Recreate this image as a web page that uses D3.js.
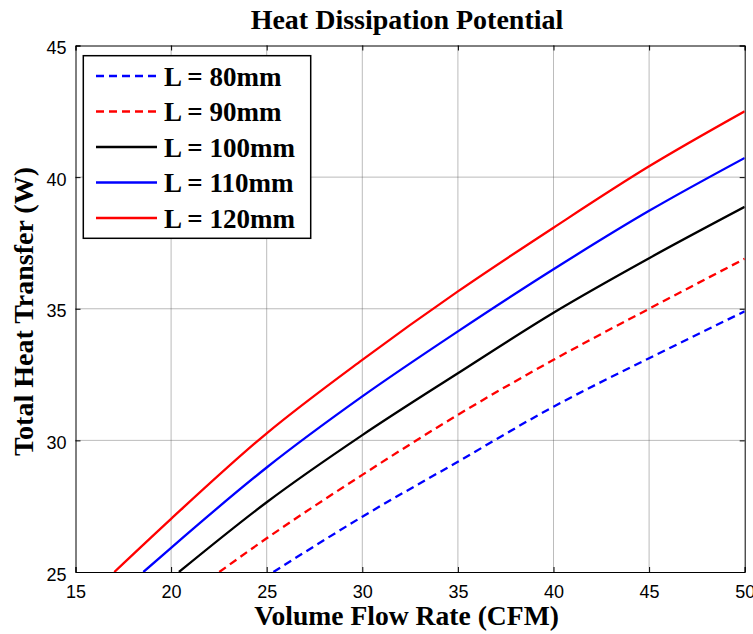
<!DOCTYPE html>
<html>
<head>
<meta charset="utf-8">
<script src="https://cdn.jsdelivr.net/npm/d3@7"></script>
<style>
  body { margin: 0; background: #fff; }
</style>
</head>
<body>
<div id="chart"></div>
<script>
////  Data
var seriesNames = ['L = 80mm', 'L = 90mm', 'L = 100mm', 'L = 110mm', 'L = 120mm'];
var flow80  = [25.35, 30, 35, 40, 45, 50];
var heat80  = [25, 27.1, 29.19, 31.28, 33.12, 34.9];
var flow90  = [22.52, 25, 30, 35, 40, 45, 50];
var heat90  = [25, 26.28, 28.69, 30.97, 33.06, 35.0, 36.9];
var flow100 = [20.41, 25, 30, 35, 40, 45, 50];
var heat100 = [25, 27.65, 30.2, 32.55, 34.85, 36.92, 38.87];
var flow110 = [18.55, 20, 25, 30, 35, 40, 45, 50];
var heat110 = [25, 25.92, 28.97, 31.67, 34.14, 36.5, 38.72, 40.73];
var flow120 = [17.03, 20, 25, 30, 35, 40, 45, 50];
var heat120 = [25, 27.02, 30.27, 33.06, 35.66, 38.08, 40.41, 42.5];
var xTicks = [15, 20, 25, 30, 35, 40, 45, 50];
var yTicks = [25, 30, 35, 40, 45];

var series = [
  {name: seriesNames[0], x: flow80,  y: heat80,  color: '#0000ff', dash: '8,5'},
  {name: seriesNames[1], x: flow90,  y: heat90,  color: '#ff0000', dash: '8,5'},
  {name: seriesNames[2], x: flow100, y: heat100, color: '#000000', dash: null},
  {name: seriesNames[3], x: flow110, y: heat110, color: '#0000ff', dash: null},
  {name: seriesNames[4], x: flow120, y: heat120, color: '#ff0000', dash: null}
];

////  Layout
var W = 753, H = 634;
var margin = {top: 45.5, right: 8.3, bottom: 62, left: 75.5};
var width = W - margin.left - margin.right,
    height = H - margin.top - margin.bottom;

var svg = d3.select('#chart').append('svg')
    .attr('width', W).attr('height', H);

var g = svg.append('g')
    .attr('transform', 'translate(' + margin.left + ',' + margin.top + ')');

var x = d3.scaleLinear().domain([15, 50]).range([0, width]);
var y = d3.scaleLinear().domain([25, 45]).range([height, 0]);

// grid (dotted, MATLAB style)
g.append('g').selectAll('line').data(xTicks.slice(1, -1)).enter().append('line')
    .attr('x1', d => x(d)).attr('x2', d => x(d))
    .attr('y1', 0).attr('y2', height)
    .attr('stroke', '#555').attr('stroke-width', 0.8).attr('stroke-dasharray', '1,1');
g.append('g').selectAll('line').data(yTicks.slice(1, -1)).enter().append('line')
    .attr('y1', d => y(d)).attr('y2', d => y(d))
    .attr('x1', 0).attr('x2', width)
    .attr('stroke', '#555').attr('stroke-width', 0.8).attr('stroke-dasharray', '1,1');

// axes, ticks inward
var tickFont = '"Liberation Sans", Arial, sans-serif';
var xAxis = g.append('g')
    .attr('transform', 'translate(0,' + height + ')')
    .call(d3.axisBottom(x).tickValues(xTicks).tickSize(-5).tickPadding(13));
var yAxis = g.append('g')
    .call(d3.axisLeft(y).tickValues(yTicks).tickSize(-5).tickPadding(9));
g.append('g').call(d3.axisTop(x).tickValues(xTicks).tickSize(-5).tickFormat(''));
g.append('g').attr('transform', 'translate(' + width + ',0)')
    .call(d3.axisRight(y).tickValues(yTicks).tickSize(-5).tickFormat(''));

g.selectAll('.domain').attr('stroke', '#000').attr('stroke-width', 1);
g.selectAll('.tick line').attr('stroke', '#000').attr('stroke-width', 1);
[xAxis, yAxis].forEach(function(a) {
  a.selectAll('text')
    .attr('font-family', tickFont).attr('font-size', 18).attr('fill', '#000');
});
yAxis.selectAll('text').attr('dy', '0.45em');

// clip
g.append('clipPath').attr('id', 'clip').append('rect')
    .attr('width', width).attr('height', height);

var line = d3.line()
    .curve(d3.curveMonotoneX)
    .x(d => x(d[0]))
    .y(d => y(d[1]));

g.append('g').attr('clip-path', 'url(#clip)')
  .selectAll('path').data(series).enter().append('path')
    .attr('d', d => line(d.x.map((v, i) => [v, d.y[i]])))
    .attr('fill', 'none')
    .attr('stroke', d => d.color)
    .attr('stroke-width', 2.3)
    .attr('stroke-dasharray', d => d.dash);

// titles
var serif = '"Liberation Serif", "Times New Roman", Times, serif';
svg.append('text')
    .attr('x', 407).attr('y', 29)
    .attr('text-anchor', 'middle')
    .attr('font-family', serif).attr('font-weight', 'bold').attr('font-size', 28)
    .text('Heat Dissipation Potential');
svg.append('text')
    .attr('x', 406.5).attr('y', 625)
    .attr('text-anchor', 'middle')
    .attr('font-family', serif).attr('font-weight', 'bold').attr('font-size', 27.6)
    .text('Volume Flow Rate (CFM)');
svg.append('text')
    .attr('transform', 'translate(33,311.5) rotate(-90)')
    .attr('text-anchor', 'middle')
    .attr('font-family', serif).attr('font-weight', 'bold').attr('font-size', 28)
    .text('Total Heat Transfer (W)');

////  Legend
var legend = svg.append('g');
legend.append('rect')
    .attr('x', 83.3).attr('y', 55.7).attr('width', 227.4).attr('height', 182.6)
    .attr('fill', '#fff').attr('stroke', '#000').attr('stroke-width', 1.5);
var rowY = d3.scalePoint().domain(seriesNames).range([76, 218]);
var items = legend.selectAll('g.item').data(series).enter().append('g')
    .attr('transform', d => 'translate(0,' + rowY(d.name) + ')');
items.append('line')
    .attr('x1', 96).attr('x2', 157)
    .attr('stroke', d => d.color).attr('stroke-width', 2.3)
    .attr('stroke-dasharray', d => d.dash);
items.append('text')
    .attr('x', 164).attr('y', 9.5)
    .attr('font-family', serif).attr('font-weight', 'bold').attr('font-size', 27)
    .text(d => d.name);
</script>
</body>
</html>
